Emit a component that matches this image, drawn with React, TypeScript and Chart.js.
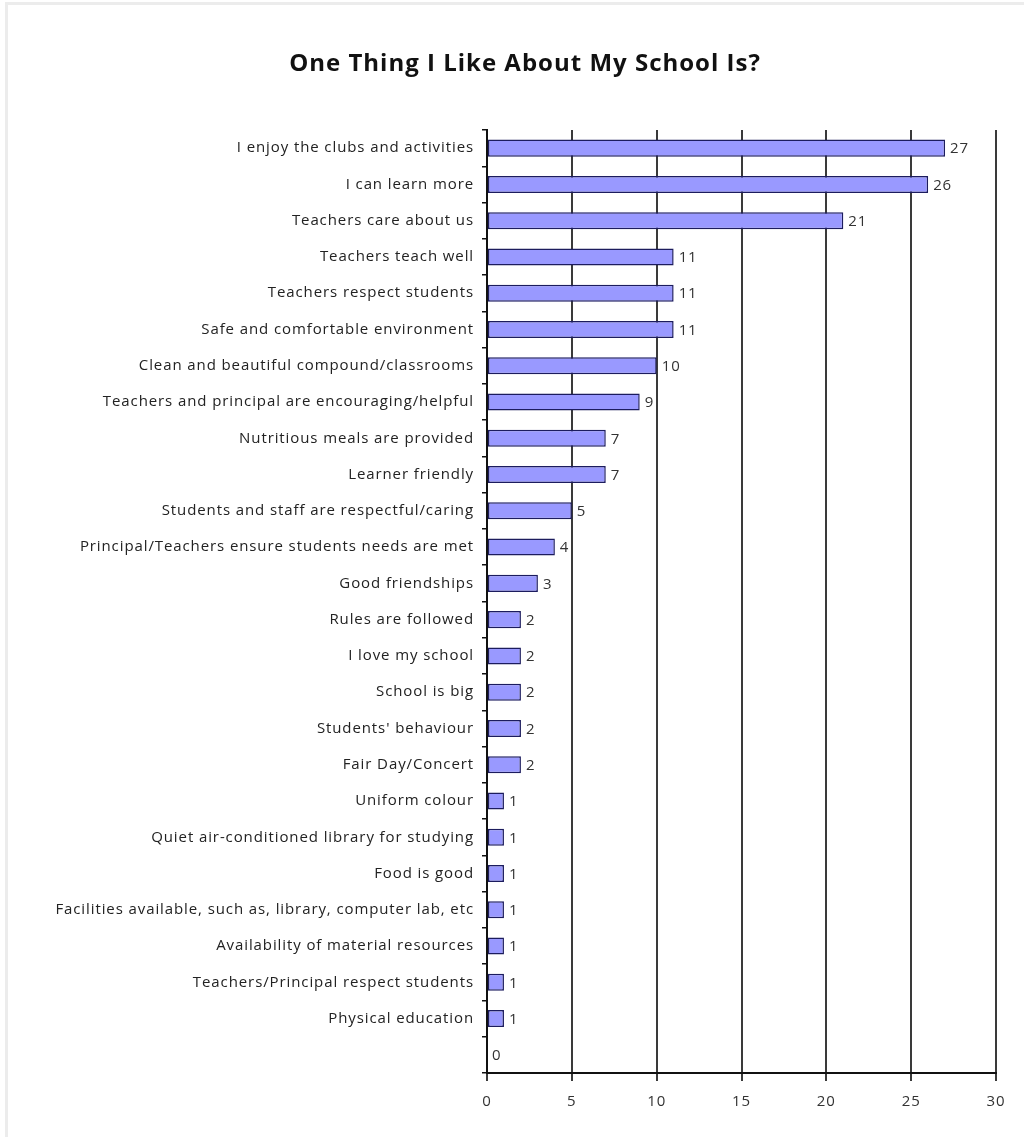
import React, { useEffect, useRef } from "react";
import { Chart, registerables } from "chart.js";

Chart.register(...registerables);

const categories: string[] = [
  "I enjoy the clubs and activities",
  "I can learn more",
  "Teachers care about us",
  "Teachers teach well",
  "Teachers respect students",
  "Safe and comfortable environment",
  "Clean and beautiful compound/classrooms",
  "Teachers and principal are encouraging/helpful",
  "Nutritious meals are provided",
  "Learner friendly",
  "Students and staff are respectful/caring",
  "Principal/Teachers ensure students needs are met",
  "Good friendships",
  "Rules are followed",
  "I love my school",
  "School is big",
  "Students' behaviour",
  "Fair Day/Concert",
  "Uniform colour",
  "Quiet air-conditioned library for studying",
  "Food is good",
  "Facilities available, such as, library, computer lab, etc",
  "Availability of material resources",
  "Teachers/Principal respect students",
  "Physical education",
  "",
];

const counts: number[] = [27, 26, 21, 11, 11, 11, 10, 9, 7, 7, 5, 4, 3, 2, 2, 2, 2, 2, 1, 1, 1, 1, 1, 1, 1, 0];

const xTicks: number[] = [0, 5, 10, 15, 20, 25, 30];

const titleText = "One Thing I Like About My School Is?";

const FONT = "'Open Sans', 'DejaVu Sans', sans-serif";

const spacing = {
  id: "spacing",
  beforeDraw(chart: any) {
    (chart.ctx as any).letterSpacing = "0.9px";
  },
  afterDraw(chart: any) {
    (chart.ctx as any).letterSpacing = "0px";
  },
};

const titlePlugin = {
  id: "titlePlugin",
  afterDraw(chart: any) {
    const ctx = chart.ctx;
    ctx.save();
    (ctx as any).letterSpacing = "1px";
    ctx.font = `bold 24px ${FONT}`;
    ctx.fillStyle = "#111";
    ctx.textAlign = "center";
    ctx.textBaseline = "middle";
    ctx.fillText(titleText, 525, 64);
    ctx.restore();
  },
};

const valueLabels = {
  id: "valueLabels",
  afterDatasetsDraw(chart: any) {
    const ctx = chart.ctx;
    const meta = chart.getDatasetMeta(0);
    ctx.save();
    ctx.font = `15px ${FONT}`;
    ctx.fillStyle = "#333";
    ctx.textBaseline = "middle";
    ctx.textAlign = "left";
    meta.data.forEach((bar: any, i: number) => {
      const v = chart.data.datasets[0].data[i];
      ctx.fillText(String(v), bar.x + 5, bar.y + 1);
    });
    ctx.restore();
  },
};

export default function App() {
  const ref = useRef<HTMLCanvasElement | null>(null);

  useEffect(() => {
    if (!ref.current) return;
    const chart = new Chart(ref.current, {
      type: "bar",
      data: {
        labels: categories,
        datasets: [
          {
            data: counts,
            backgroundColor: "#9999ff",
            borderColor: "#1c1c5e",
            borderWidth: 1.5,
            borderSkipped: false,
            barPercentage: 0.47,
            categoryPercentage: 1,
          },
        ],
      },
      options: {
        indexAxis: "y",
        responsive: false,
        animation: false,
        layout: { padding: { left: 0, right: 28, top: 130, bottom: 0 } },
        plugins: {
          legend: { display: false },
          tooltip: { enabled: false },
          title: { display: false },
        },
        scales: {
          x: {
            type: "linear",
            min: 0,
            max: 30,
            afterBuildTicks: (scale: any) => {
              scale.ticks = xTicks.map((v) => ({ value: v }));
            },
            afterFit: (scale: any) => {
              scale.height = 64;
            },
            grid: {
              color: "#3a3a3a",
              lineWidth: 2,
              tickLength: 8,
              drawTicks: true,
            },
            border: { display: true, color: "#111", width: 2 },
            ticks: {
              color: "#333",
              padding: 12,
              font: { family: FONT, size: 15 },
            },
          },
          y: {
            afterFit: (scale: any) => {
              scale.width = 487;
            },
            grid: {
              drawOnChartArea: false,
              drawTicks: true,
              tickLength: 5,
              color: "#111",
              lineWidth: 1.5,
            },
            border: { display: true, color: "#111", width: 2 },
            ticks: {
              color: "#222",
              padding: 8,
              autoSkip: false,
              font: { family: FONT, size: 15 },
            },
          },
        },
      },
      plugins: [spacing, valueLabels, titlePlugin],
    });
    return () => chart.destroy();
  }, []);

  return (
    <div
      style={{
        position: "absolute",
        left: 0,
        top: 0,
        width: 1024,
        height: 1137,
        background: "#fff",
        overflow: "hidden",
      }}
    >
      <div
        style={{
          position: "absolute",
          left: 5,
          top: 2,
          width: 1030,
          height: 1150,
          borderLeft: "3px solid #ececec",
          borderTop: "3px solid #ececec",
        }}
      />
      <canvas
        ref={ref}
        width={1024}
        height={1137}
        style={{ position: "absolute", left: 0, top: 0, width: 1024, height: 1137 }}
      />
    </div>
  );
}
